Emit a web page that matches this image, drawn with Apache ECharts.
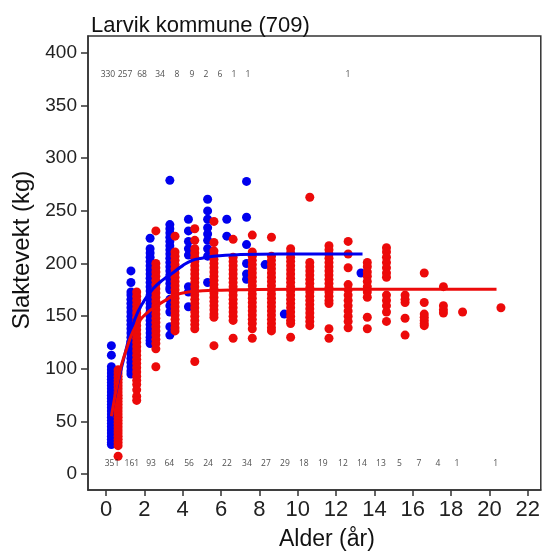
<!DOCTYPE html>
<html>
<head>
<meta charset="utf-8">
<script src="https://cdn.jsdelivr.net/npm/echarts@6/dist/echarts.min.js"></script>
<style>
html,body{margin:0;padding:0;background:#fff;}
#c{width:543px;height:556px;}
</style>
</head>
<body>
<div id="c"></div>
<script>
// ---- data ----
const titleText = 'Larvik kommune (709)';
const xTicks = [0,2,4,6,8,10,12,14,16,18,20,22];
const yTicks = [0,50,100,150,200,250,300,350,400];

// blue (column age positions and weights)
const blueX = [0.28, 1.3, 2.3, 3.33, 4.3, 5.3, 6.3, 7.33, 8.3, 9.3, 13.3];
const blueW = [
  [122,113,102,99,96,93,90,87,84,81,78,75,72,69,66,63,60,57,54,51,48,45,42,39,36,33,30,28],
  [193,182,173,170,166,162,158,154,150,146,142,138,134,130,126,122,118,114,110,106,102,98,95],
  [224,214,210,206,202,198,194,190,186,182,178,174,170,166,162,158,154,150,146,142,138,134,130,127,124],
  [279,237,233,229,225,221,217,213,209,205,201,197,193,189,185,181,177,175,166,160,154,140,132],
  [242,231,221,214,208,178,173,159],
  [261,250,242,234,228,222,214,207,182],
  [242,226],
  [278,244,218,200,190,185],
  [199],
  [152],
  [191]
];

// red
const redX = [0.63,1.6,2.6,3.6,4.63,5.63,6.63,7.63,8.63,9.63,10.63,11.63,12.63,13.63,14.63,15.6,16.6,17.6,18.6,20.6];
const redW = [
  [99,96,93,90,87,84,81,78,75,72,69,66,63,60,57,54,51,48,45,42,39,36,33,30,27,17],
  [173,169,165,161,157,153,149,145,141,137,133,129,125,121,117,113,109,105,101,97,93,89,85,80,74,70],
  [231,200,196,192,188,184,180,176,172,168,164,160,156,152,148,144,140,136,132,128,124,119,102],
  [226,211,207,203,199,195,191,187,183,179,175,171,167,163,159,155,151,147,143,139,136],
  [233,222,214,210,206,202,198,194,190,186,182,178,174,170,166,162,158,154,150,146,142,138,107],
  [240,220,212,208,204,200,196,192,188,184,180,176,172,168,164,160,156,152,149,122],
  [223,206,202,198,194,190,186,182,178,174,170,166,162,158,154,150,146,129],
  [227,211,207,203,199,195,191,187,183,179,175,171,167,163,159,155,151,147,143,138,129],
  [225,207,203,199,195,191,187,183,179,175,171,167,163,159,155,151,147,143,139,136],
  [214,210,206,202,198,194,190,186,182,178,174,170,166,162,158,154,150,146,143,130],
  [263,201,197,193,189,185,181,177,173,169,165,161,157,153,149,145,141],
  [217,213,209,205,201,197,193,189,185,181,177,173,169,165,162,138,129],
  [221,209,196,180,175,170,165,160,155,150,145,139],
  [201,197,192,188,183,178,173,168,149,138],
  [215,211,206,201,196,191,187,170,165,160,154,145],
  [170,166,163,148,132],
  [191,163,152,149,146,143,141],
  [178,160,156,153],
  [154],
  [158]
];

// fitted curves
const blueFitX = [0.24,0.6,1.0,1.5,2.0,2.45,3.0,3.4,4.0,4.5,5.0,5.6,7.0,9.0,11.0,13.38];
const blueFitY = [53,85,115,147,165,176,185,190,198,203,205,207,208.5,209,209,209];
const redFitX = [0.28,0.73,1.0,1.42,1.77,2.2,2.64,3.1,3.5,4.0,4.73,5.5,6.8,10,15,20.37];
const redFitY = [55,98,115,136,146,154,160,165,169.5,172,173.7,174.5,175,175.5,175.5,175.5];

// counts (top = blue, bottom = red)
const blueCounts = [330,257,68,34,8,9,2,6,1,1,1];
const blueCountX = [0.1,0.99,1.88,2.82,3.70,4.48,5.21,5.94,6.67,7.40,12.62];
const redCounts = [351,161,93,64,56,24,22,34,27,29,18,19,12,14,13,5,7,4,1,1];
const redCountX = [0.31,1.35,2.35,3.3,4.33,5.32,6.31,7.35,8.34,9.33,10.32,11.31,12.36,13.35,14.34,15.3,16.32,17.31,18.3,20.33];
const blueCountY = 379;
const redCountY = 10;

// ---- build ----
const BLUE = '#0000ee';
const RED = '#ec0a0a';
const blueData = blueX.flatMap((x,i)=>blueW[i].map(w=>[x,w]));
const redData = redX.flatMap((x,i)=>redW[i].map(w=>[x,w]));
const blueFit = blueFitX.map((x,i)=>[x,blueFitY[i]]);
const redFit = redFitX.map((x,i)=>[x,redFitY[i]]);
const blueCnt = blueCountX.map((x,i)=>[x,blueCountY,blueCounts[i]]);
const redCnt = redCountX.map((x,i)=>[x,redCountY,redCounts[i]]);

const chart = echarts.init(document.getElementById('c'), null, {renderer:'canvas'});
const font = 'Liberation Sans, Arial, sans-serif';
const cntLabel = {
  show:true, position:'inside', formatter:p=>p.data[2],
  fontSize:8.5, fontFamily:'Open Sans, sans-serif', color:'#1a1a1a'
};
chart.setOption({
  animation:false,
  backgroundColor:'#fff',
  title:{
    text:titleText, left:86, top:10,
    textStyle:{fontFamily:font, fontSize:22, fontWeight:'normal', color:'#111'}
  },
  grid:{left:88, top:36, right:2, bottom:64, show:true, borderColor:'#333', borderWidth:1.5, containLabel:false},
  xAxis:{
    type:'value', min:-0.94, max:22.68,
    name:'Alder (år)', nameLocation:'middle', nameGap:38,
    nameTextStyle:{fontFamily:font, fontSize:23, color:'#111', padding:[0,0,0,25]},
    axisLine:{show:true, onZero:false, lineStyle:{color:'#333', width:1.5}},
    axisTick:{show:true, length:6, customValues:xTicks, lineStyle:{color:'#333', width:1.5}},
    axisLabel:{customValues:xTicks, fontFamily:font, fontSize:22, color:'#222', margin:9},
    splitLine:{show:false}
  },
  yAxis:{
    type:'value', min:-15.1, max:416.1,
    name:'Slaktevekt (kg)', nameLocation:'middle', nameGap:54, nameRotate:90,
    nameTextStyle:{fontFamily:font, fontSize:24, color:'#111', padding:[0,0,0,26]},
    axisLine:{show:true, onZero:false, lineStyle:{color:'#333', width:1.5}},
    axisTick:{show:true, length:7, customValues:yTicks, lineStyle:{color:'#333', width:1.5}},
    axisLabel:{customValues:yTicks, fontFamily:font, fontSize:19, color:'#222', margin:11},
    splitLine:{show:false}
  },
  series:[
    {type:'scatter', data:blueData, symbolSize:9, itemStyle:{color:BLUE, opacity:1}, z:2},
    {type:'scatter', data:redData, symbolSize:9, itemStyle:{color:RED, opacity:1}, z:3},
    {type:'line', data:blueFit, smooth:true, showSymbol:false, lineStyle:{color:BLUE, width:3}, z:4},
    {type:'line', data:redFit, smooth:true, showSymbol:false, lineStyle:{color:RED, width:3}, z:5},
    {type:'scatter', data:blueCnt, symbolSize:0, itemStyle:{color:'transparent'}, label:cntLabel, z:6},
    {type:'scatter', data:redCnt, symbolSize:0, itemStyle:{color:'transparent'}, label:cntLabel, z:6}
  ]
});
</script>
</body>
</html>
